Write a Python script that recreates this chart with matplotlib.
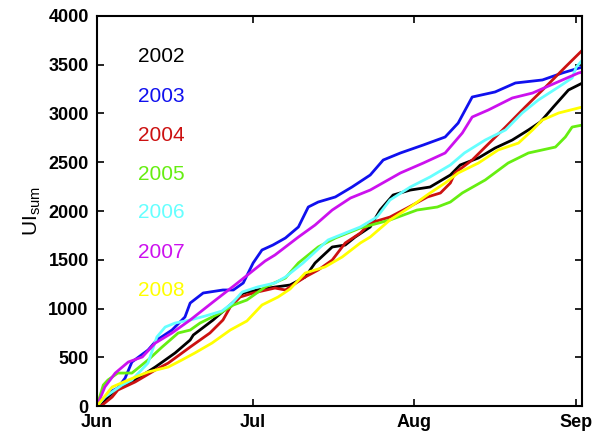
import matplotlib
matplotlib.use("Agg")
import matplotlib.pyplot as plt

plt.rcParams['font.family'] = ['Liberation Sans', 'DejaVu Sans']
plt.rcParams['mathtext.fontset'] = 'custom'
plt.rcParams['mathtext.rm'] = 'Liberation Sans'
plt.rcParams['mathtext.bf'] = 'Liberation Sans:bold'

# days since 1 June, cumulative UI
d2002 = [0, 1.0, 3.5, 7.3, 11.2, 15.0, 17.9, 18.5, 22.3, 25.6, 28.1, 30.8, 34.2, 37.1, 40.0, 41.9, 45.2, 47.7, 49.6,
         52.5, 54.4, 56.9, 60.2, 64.0, 67.9, 69.8, 73.3, 76.5, 79.8, 82.9, 85.2, 87.7, 90.6, 93.3]
v2002 = [0, 31, 164, 267, 400, 544, 677, 728, 882, 1036, 1159, 1190, 1220, 1241, 1323, 1467, 1631, 1651, 1733,
         1836, 2010, 2164, 2215, 2246, 2369, 2472, 2544, 2646, 2728, 2831, 2913, 3067, 3241, 3313]

d2003 = [0, 1.0, 2.5, 4.0, 5.4, 6.7, 9.8, 11.5, 14.4, 16.9, 17.9, 20.4, 24.2, 26.2, 28.1, 30.0, 31.7, 33.8, 36.2,
         38.7, 40.6, 42.5, 45.8, 49.0, 52.5, 55.0, 58.3, 62.7, 66.9, 69.4, 72.1, 76.5, 80.4, 85.6, 89.4, 93.3]
v2003 = [0, 62, 144, 185, 287, 451, 574, 677, 779, 913, 1056, 1159, 1190, 1190, 1262, 1467, 1600, 1651, 1723,
         1836, 2041, 2092, 2144, 2246, 2369, 2523, 2595, 2677, 2759, 2902, 3169, 3221, 3313, 3344, 3415, 3477]

d2004 = [0, 1.0, 2.9, 4.0, 7.3, 11.2, 13.7, 17.9, 21.7, 24.2, 25.6, 27.5, 30.0, 34.2, 36.2, 40.0, 42.5, 45.2, 47.7,
         50.6, 52.5, 56.3, 59.6, 63.5, 66.0, 67.9, 68.8, 72.1, 74.6, 78.5, 82.3, 86.2, 90.0, 93.3]
v2004 = [0, 10, 92, 164, 246, 369, 441, 605, 749, 882, 1015, 1118, 1159, 1210, 1190, 1323, 1395, 1497, 1672,
         1774, 1877, 1938, 2031, 2144, 2185, 2287, 2390, 2523, 2656, 2861, 3067, 3272, 3477, 3651]

d2005 = [0, 1.2, 2.1, 4.0, 6.7, 9.8, 12.5, 15.6, 17.9, 19.8, 23.7, 26.2, 28.8, 32.3, 36.2, 38.7, 42.5, 45.8, 50.6,
         56.3, 61.5, 65.4, 67.9, 70.2, 74.6, 79.0, 82.9, 88.1, 90.0, 91.3, 93.3]
v2005 = [0, 215, 267, 338, 338, 472, 605, 749, 779, 851, 954, 1036, 1087, 1220, 1313, 1467, 1631, 1723, 1826,
         1908, 2010, 2041, 2092, 2185, 2318, 2492, 2595, 2656, 2759, 2861, 2882]

d2006 = [0, 1.5, 4.8, 6.7, 9.8, 11.5, 13.1, 15.0, 17.9, 20.8, 24.0, 26.0, 27.9, 30.8, 34.2, 36.2, 39.6, 44.4, 47.7,
         50.6, 53.8, 56.3, 60.2, 64.0, 67.9, 70.6, 74.6, 78.5, 81.7, 84.8, 88.7, 91.3, 92.1, 93.3]
v2006 = [0, 92, 215, 267, 441, 708, 810, 851, 882, 923, 974, 1056, 1169, 1220, 1262, 1323, 1467, 1703, 1774,
         1836, 1938, 2113, 2246, 2349, 2472, 2595, 2728, 2831, 3005, 3138, 3272, 3364, 3477, 3549]

d2007 = [0, 1.5, 3.5, 6.0, 8.7, 11.2, 14.4, 17.9, 22.3, 26.5, 29.4, 32.3, 34.2, 38.7, 41.9, 45.2, 48.7, 52.5, 58.3,
         62.7, 66.9, 70.2, 72.1, 75.2, 79.8, 83.7, 88.1, 92.5, 93.3]
v2007 = [0, 195, 338, 451, 503, 646, 749, 882, 1067, 1241, 1364, 1487, 1549, 1733, 1856, 2010, 2133, 2215, 2390,
         2492, 2595, 2800, 2964, 3036, 3159, 3210, 3313, 3415, 3426]

d2008 = [0, 2.9, 6.0, 9.8, 13.7, 16.3, 18.8, 22.1, 25.6, 28.8, 31.7, 34.8, 37.1, 40.0, 43.8, 47.1, 50.6, 52.5, 56.3,
         60.2, 64.0, 66.9, 69.4, 73.3, 77.1, 81.0, 83.7, 85.6, 88.7, 93.3]
v2008 = [0, 195, 267, 349, 400, 472, 544, 646, 779, 872, 1036, 1118, 1200, 1364, 1426, 1528, 1672, 1733, 1908,
         2041, 2185, 2287, 2390, 2492, 2626, 2697, 2831, 2933, 3005, 3067]

years = ['2002', '2003', '2004', '2005', '2006', '2007', '2008']
colors = ['#000000', '#1010ee', '#cc1111', '#66ee11', '#66ffff', '#cc11ee', '#ffff00']
series = [(d2002, v2002), (d2003, v2003), (d2004, v2004), (d2005, v2005),
          (d2006, v2006), (d2007, v2007), (d2008, v2008)]
label_vals = [3580, 3170, 2770, 2370, 1980, 1570, 1180]

month_ticks = [0, 30, 61, 92]
month_labels = ['Jun', 'Jul', 'Aug', 'Sep']
y_ticks = [0, 500, 1000, 1500, 2000, 2500, 3000, 3500, 4000]

fig = plt.figure(figsize=(5.92, 4.37), dpi=100)
ax = fig.add_axes([0.1639, 0.0709, 0.8192, 0.8925])

for (d, v), c in zip(series, colors):
    ax.plot(d, v, color=c, lw=2.0, solid_joinstyle='round')

for yr, c, lv in zip(years, colors, label_vals):
    ax.text(7.9, lv, yr, color=c, fontsize=15, va='center', ha='left')

ax.set_xlim(0, 93.2)
ax.set_ylim(0, 4000)
ax.set_xticks(month_ticks)
ax.set_xticklabels(month_labels)
ax.set_yticks(y_ticks)
ax.tick_params(direction='in', length=5, width=1.2, top=True, right=True,
               labelsize=13, pad=6)
for lab in ax.get_xticklabels() + ax.get_yticklabels():
    lab.set_fontweight('bold')
for s in ax.spines.values():
    s.set_linewidth(1.5)
ax.set_ylabel(r'$\mathrm{UI}_{\mathrm{sum}}$', fontsize=15, labelpad=4)

fig.savefig('out.png', dpi=100)
